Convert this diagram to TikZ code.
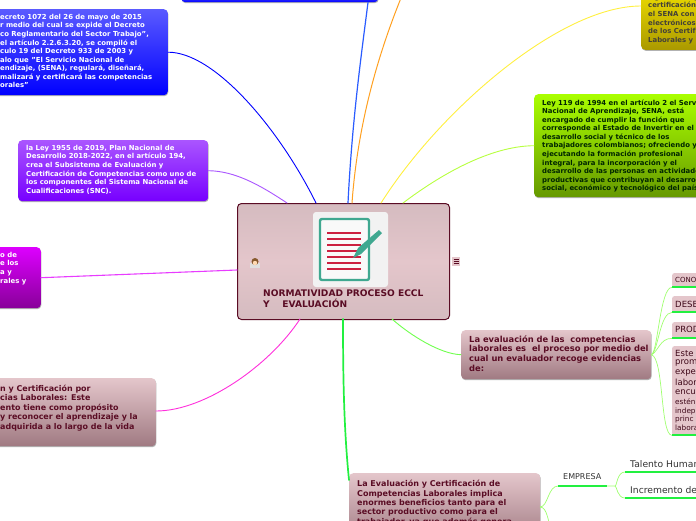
\documentclass[tikz,border=0pt]{standalone}
\usepackage{fontspec}
\setmainfont{DejaVu Sans}
\usetikzlibrary{shadows}
\definecolor{wine}{HTML}{5A0C24}
\definecolor{pinkA}{HTML}{E4C6CB}
\definecolor{pinkB}{HTML}{A07A82}
\definecolor{lk}{HTML}{A0FF70}
\definecolor{blueA}{HTML}{5A5AFF}
\definecolor{blueB}{HTML}{0000FF}
\definecolor{vioA}{HTML}{AA55FF}
\definecolor{vioB}{HTML}{7700FF}
\definecolor{magA}{HTML}{DD00FF}
\definecolor{magB}{HTML}{880099}
\definecolor{golA}{HTML}{EEDD00}
\definecolor{golB}{HTML}{AA9900}
\definecolor{limA}{HTML}{AAFF00}
\definecolor{limB}{HTML}{669900}
\definecolor{tealc}{HTML}{3FA890}
\definecolor{redc}{HTML}{CC2040}
\definecolor{lnkmag}{HTML}{E83CFF}
\definecolor{lnkpink}{HTML}{FF30DC}
\definecolor{lnkblue}{HTML}{2A5CFF}
\definecolor{lnkorange}{HTML}{FFA020}
\definecolor{lnkyellow}{HTML}{FFF040}
\definecolor{lnklime}{HTML}{B8FF40}
\definecolor{lnkgreen}{HTML}{22F040}
\tikzset{
  x=1pt,y=-1pt,
  mapbox/.style={draw=none,rounded corners=4pt,inner sep=0pt,drop shadow={shadow xshift=0.5pt,shadow yshift=-1pt,opacity=.3,fill=black}},
  boxtext/.style={anchor=north west,align=left,inner sep=0pt,font=\bfseries\fontsize{6.9}{8.55}\selectfont},
  plaintext/.style={anchor=west,inner sep=0pt,text=wine!70!black,font=\fontsize{#1}{9}\selectfont},
  link/.style={line width=.9pt,line cap=round},
  thin link/.style={lk,line width=.7pt},
  under/.style={lnkgreen,line width=2pt},
  childbox/.style={fill=pinkA,rounded corners=2pt,minimum width=30pt,inner sep=0pt,anchor=north west},
}
\begin{document}
\begin{tikzpicture}
\useasboundingbox (0,0) rectangle (696,520);
\clip (0,0) rectangle (696,520);
\fill[white] (0,0) rectangle (696,520);
% central
\node[draw=wine,line width=1pt,rounded corners=4pt,minimum width=212pt,minimum height=116pt,inner sep=0pt,anchor=north west,
  top color=pinkA!85!gray,bottom color=pinkA!85!gray,middle color=pinkA] (main) at (237,203) {};
% boxes
\node[mapbox,top color=blueA,bottom color=blueB,minimum width=197pt,minimum height=8pt,anchor=north west] (b0) at (181,-6) {};
\coordinate (toporange) at (401,-2);
\node[mapbox,top color=blueA,bottom color=blueB,minimum width=200pt,minimum height=86pt,anchor=north east] (b1) at (168,9) {};
\node[mapbox,top color=vioA,bottom color=vioB,minimum width=190pt,minimum height=61pt,anchor=north west] (b2) at (18,140) {};
\node[mapbox,top color=magA,bottom color=magB,minimum width=60pt,minimum height=61pt,anchor=north east] (b3) at (41,247) {};
\node[mapbox,top color=pinkA,bottom color=pinkB,minimum width=170pt,minimum height=68pt,anchor=north east] (b4) at (156,378) {};
\node[mapbox,top color=golA,bottom color=golB,minimum width=70pt,minimum height=60pt,anchor=south west] (b5) at (641,50) {};
\node[mapbox,top color=limA,bottom color=limB,minimum width=180pt,minimum height=103pt,anchor=north west] (b6) at (534,94) {};
\node[mapbox,top color=pinkA,bottom color=pinkB,minimum width=190pt,minimum height=49pt,anchor=north west] (b7) at (461,330) {};
\node[mapbox,top color=pinkA,bottom color=pinkB,minimum width=191pt,minimum height=70pt,anchor=north west] (b8) at (349,473) {};
\node[childbox,minimum height=14pt] (c1) at (672,273) {};
\node[childbox,minimum height=16pt] (c2) at (672,296) {};
\node[childbox,minimum height=16pt] (c3) at (672,322) {};
\node[childbox,minimum height=89pt] (c4) at (672,346) {};
\foreach \n in {c1,c2,c3,c4}{\draw[under] (\n.south west) -- (\n.south east);}
% links
\draw[link,lnkblue,line width=1.2pt] (348,203) .. controls (352,120) and (362,50) .. (b0.south -| 368,0);
\draw[link,lnkorange,line width=1pt] (352,203) .. controls (358,120) and (380,50) .. (toporange);
\draw[link,vioA] (287,203) .. controls (260,185) and (235,171) .. (b2.east);
\draw[link,blueB] (316,203) .. controls (280,130) and (215,52) .. (b1.east);
\draw[link,lnkyellow] (381,203) .. controls (440,110) and (560,6) .. (641,6);
\draw[link,lnklime] (403,203) .. controls (440,175) and (490,146) .. (b6.west);
\draw[link,lnkmag,line width=1.1pt] (237,270) -- (b3.east);
\draw[link,lnkpink] (300,319) .. controls (270,365) and (205,411) .. (156,411);
\draw[link,lnkgreen,line width=1.7pt] (343,319) .. controls (343,380) and (344,430) .. (349,480);
\draw[link,lk!70!green] (392,319) .. controls (410,335) and (440,354) .. (b7.west);
\draw[thin link] (b7.east) .. controls (658,352) and (660,287) .. (c1.south west);
\draw[thin link] (b7.east) .. controls (658,352) and (660,312) .. (c2.south west);
\draw[thin link] (b7.east) .. controls (658,352) and (660,338) .. (c3.south west);
\draw[thin link] (b7.east) .. controls (664,358) and (660,435) .. (c4.south west);
\coordinate (e1) at (558,486);
\coordinate (e2) at (607,486);
\coordinate (t1) at (625,472);
\coordinate (t2) at (625,498);
\coordinate (tr1) at (696,472);
\coordinate (tr2) at (696,498);
\coordinate (e3) at (552,530);
\draw[thin link] (540,507) .. controls (548,507) and (548,486) .. (e1);
\draw[thin link] (540,507) .. controls (548,507) and (548,525) .. (e3);
\draw[thin link] (e2) -- (615,486) .. controls (617,486) and (617,472) .. (t1);
\draw[thin link] (615,486) .. controls (617,486) and (617,498) .. (t2);
\draw[under] (e1) -- (e2);
\draw[under] (t1) -- (tr1);
\draw[under] (t2) -- (tr2);
% text
\node[boxtext,text=white] (tb1) at (0,14) {ecreto 1072 del 26 de mayo de 2015\\r medio del cual se expide el Decreto\\co Reglamentario del Sector Trabajo",\\el artículo 2.2.6.3.20, se compiló el\\culo 19 del Decreto 933 de 2003 y\\alo que "El Servicio Nacional de\\endizaje, (SENA), regulará, diseñará,\\malizará y certificará las competencias\\orales"};
\node[boxtext,text=white] (tb2) at (26,145) {la Ley 1955 de 2019, Plan Nacional de\\Desarrollo 2018-2022, en el artículo 194,\\crea el Subsistema de Evaluación y\\Certificación de Competencias como uno de\\los componentes del Sistema Nacional de\\Cualificaciones (SNC).};
\node[boxtext,text=white] (tb3) at (0,252) {o de\\e los\\a y\\rales y};
\node[boxtext,text=wine,font=\bfseries\fontsize{7.95}{9.5}\selectfont] (tb4) at (0,384.5) {n y Certificación por\\cias Laborales: Este\\ento tiene como propósito\\y reconocer el aprendizaje y la\\adquirida a lo largo de la vida};
\node[boxtext,text=black!85!yellow] (tb5) at (648,-6) {signatarios y\\certificación\\el SENA con\\electrónicos\\de los Certif\\Laborales y};
\node[boxtext,text=black!85!green] (tb6) at (542,99.5) {Ley 119 de 1994 en el artículo 2 el Servicio\\Nacional de Aprendizaje, SENA, está\\encargado de cumplir la función que\\corresponde al Estado de Invertir en el\\desarrollo social y técnico de los\\trabajadores colombianos; ofreciendo y\\ejecutando la formación profesional\\integral, para la incorporación y el\\desarrollo de las personas en actividades\\productivas que contribuyan al desarrollo\\social, económico y tecnológico del país};
\node[boxtext,text=wine,font=\bfseries\fontsize{8.35}{9.6}\selectfont] (tb7) at (469,335.5) {La evaluación de las\ \ competencias\\laborales es\ \ el proceso por medio del\\cual un evaluador recoge evidencias\\de:};
\node[boxtext,text=wine,font=\bfseries\fontsize{8}{9.4}\selectfont] (tb8) at (357,480) {La Evaluación y Certificación de\\Competencias Laborales implica\\enormes beneficios tanto para el\\sector productivo como para el\\trabajador, ya que además genera};
\node[plaintext=7] (l1) at (675,279.5) {CONO};
\node[plaintext=8.5] (l2) at (675,304) {DESE};
\node[plaintext=8.5] (l3) at (675,329) {PROD};
\foreach \y/\t in {353/Este,363/prom,373/exper,382/labor,392/encu}{\node[plaintext=8.5] at (675,\y) {\t};}
\foreach \y/\t in {402/estén,411/indep,419/princ,428/labora}{\node[plaintext=7.3] at (675,\y) {\t};}
\node[plaintext=8,text=black!80] (l4) at (563,477) {EMPRESA};
\node[plaintext=9.2,text=black!80] (l5) at (630,464) {Talento Humano};
\node[plaintext=9.2,text=black!80] (l6) at (630,490) {Incremento de};
\node[boxtext,text=wine,font=\bfseries\fontsize{9.1}{11}\selectfont] (title) at (263,289.5) {NORMATIVIDAD PROCESO ECCL\\Y\ \ \ \ EVALUACIÓN};
% document icon
\fill[black!5!white,rounded corners=3pt] (313,212) rectangle (388,287);
\draw[tealc,line width=2.4pt,rounded corners=2pt,fill=white!95!gray] (320,219) rectangle (369,280);
\foreach \y/\w in {233/2.2,239/2.4,245/1.2,251/1.2,257/2.4,263/1.2,269/1.2}{\draw[redc,line width=\w pt] (327,\y) -- (361,\y);}
\fill[tealc] (353,258) -- (358,248) -- (379,230) -- (382,233) -- (361,254) -- cycle;
% small icons
\fill[black!12!white] (250,263) rectangle (260,268);
\fill[brown!70!black] (255,261.5) circle (3.5pt);
\fill[orange!30!white] (255,263) circle (2.2pt);
\node[fill=pinkA,minimum width=8pt,minimum height=9pt,inner sep=0pt] (ic) at (456,261) {};
\foreach \y in {-2,0,2}{\draw[wine,line width=.7pt] ([shift={(-2.5,\y)}]ic.center) -- ([shift={(2.5,\y)}]ic.center);}
\end{tikzpicture}
\end{document}
